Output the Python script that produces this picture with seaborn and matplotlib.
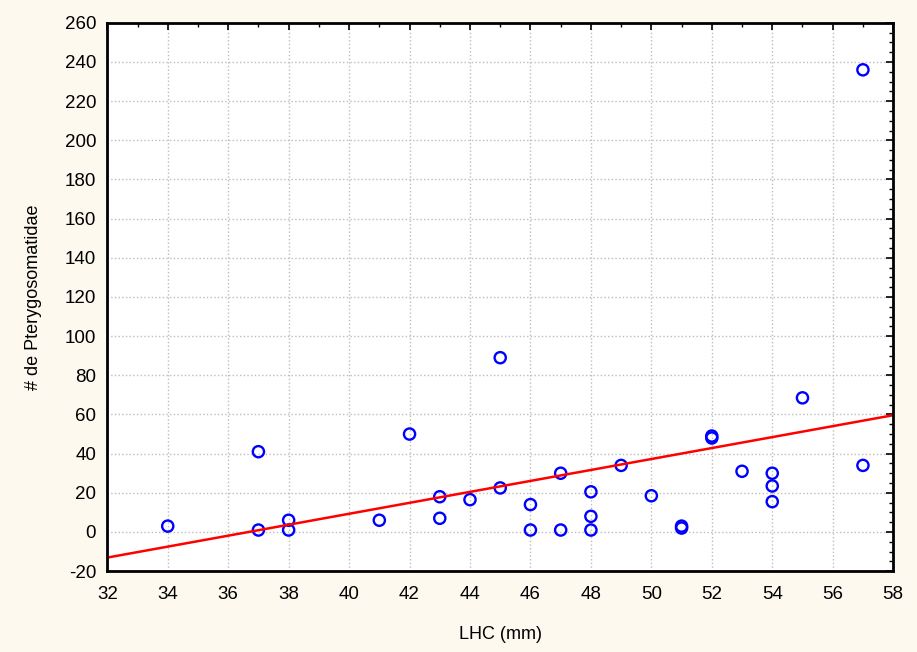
import numpy as np
import pandas as pd
import seaborn as sns
from matplotlib import pyplot as plt
from matplotlib.ticker import MultipleLocator

# LHC (mm) vs number of Pterygosomatidae mites
lhc = [34, 37, 37, 38, 38, 41, 42, 43, 43, 44, 45, 45, 46, 46, 47, 47,
       48, 48, 48, 49, 50, 51, 51, 52, 52, 53, 54, 54, 54, 55, 57, 57]
mites = [3, 41, 1, 6, 1, 6, 50, 18, 7, 16.5, 89, 22.5, 14, 1, 30, 1,
         20.5, 8, 1, 34, 18.5, 3, 2, 49, 48, 31, 30, 23.5, 15.5, 68.5, 34, 236]

df = pd.DataFrame({'LHC': lhc, 'n': mites})

sns.set_style('white')
plt.rcParams['font.family'] = ['Liberation Sans', 'DejaVu Sans']
plt.rcParams['axes.unicode_minus'] = False

fig, ax = plt.subplots(figsize=(9.17, 6.52), dpi=100)
fig.patch.set_facecolor('#fdf9ef')
ax.set_facecolor('white')
fig.subplots_adjust(left=0.117, right=0.974, top=0.965, bottom=0.124)

ax.set_xlim(32, 58)
ax.set_ylim(-20, 260)

sns.regplot(data=df, x='LHC', y='n', ax=ax, ci=None, truncate=False,
            scatter_kws=dict(s=65, facecolors='none', edgecolors='#0000ff',
                             linewidths=1.7, alpha=1),
            line_kws=dict(color='#ff0000', lw=1.8))

ax.xaxis.set_major_locator(MultipleLocator(2))
ax.xaxis.set_minor_locator(MultipleLocator(1))
ax.yaxis.set_major_locator(MultipleLocator(20))
ax.yaxis.set_minor_locator(MultipleLocator(5))
ax.tick_params(which='both', direction='in', top=True, right=True, colors='black',
               labelsize=13.5, labelcolor='black')
ax.tick_params(which='major', length=5, width=1.2)
ax.tick_params(axis='y', which='major', pad=8)
ax.tick_params(axis='x', which='major', pad=11)
ax.tick_params(which='minor', length=3, width=1)
ax.grid(True, which='major', linestyle=':', color='#bdbdbd', lw=1)

for s in ax.spines.values():
    s.set_visible(True)
    s.set_color('black')
    s.set_linewidth(2)

ax.set_xlabel('LHC (mm)', fontsize=13, color='black', labelpad=16)
ax.set_ylabel('# de Pterygosomatidae', fontsize=13, color='black', labelpad=16)

plt.savefig('out.png', facecolor=fig.get_facecolor())
